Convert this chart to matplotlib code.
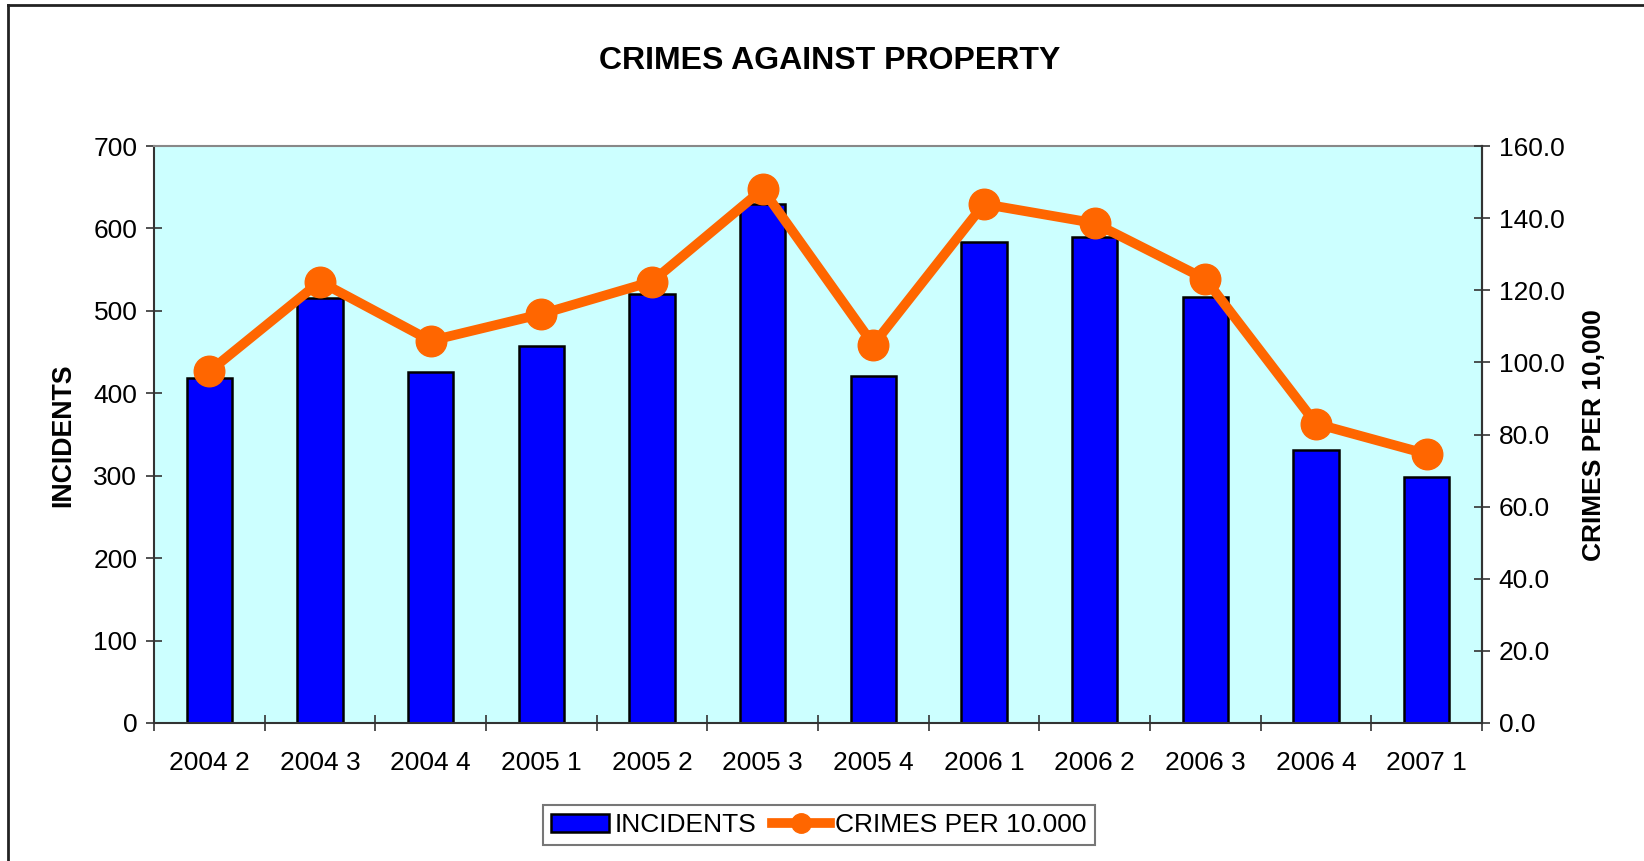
import matplotlib
matplotlib.use("Agg")
import matplotlib.pyplot as plt
from matplotlib.lines import Line2D
from matplotlib.patches import Patch
import numpy as np

plt.rcParams['font.family'] = ['Liberation Sans', 'DejaVu Sans']

categories = ["2004 2", "2004 3", "2004 4", "2005 1", "2005 2", "2005 3",
              "2005 4", "2006 1", "2006 2", "2006 3", "2006 4", "2007 1"]
incidents = [418, 516, 426, 457, 521, 630, 421, 583, 589, 517, 331, 298]
crimes_per_10000 = [97.5, 122.4, 106.0, 113.4, 122.4, 148.0, 104.9, 143.9,
                    138.6, 123.1, 83.0, 74.6]
left_ticks = [0, 100, 200, 300, 400, 500, 600, 700]
right_ticks = [0, 20, 40, 60, 80, 100, 120, 140, 160]

W, H = 1644, 861
fig = plt.figure(figsize=(W / 100, H / 100), dpi=100)
ax = fig.add_axes([154 / W, 1 - 723 / H, (1482 - 154) / W, (723 - 146) / H])
ax.set_facecolor('#CCFFFF')

x = np.arange(len(categories))
ax.bar(x, incidents, width=0.41, color='#0000FF', edgecolor='black',
       linewidth=1.8, zorder=2)
ax.set_xlim(-0.5, len(categories) - 0.5)
ax.set_ylim(0, 700)
ax.set_yticks(left_ticks)
ax.set_yticklabels([str(t) for t in left_ticks])
ax.set_xticks(x)
ax.set_xticklabels(categories)
ax.set_xticks(np.arange(-0.5, len(categories), 1.0), minor=True)
ax.tick_params(axis='x', which='major', length=0, pad=20, labelsize=19)
ax.tick_params(axis='x', which='minor', direction='inout', length=12,
               width=1.2, color='#333333')
ax.tick_params(axis='y', direction='inout', length=12, width=1.2,
               color='#333333', labelsize=19, pad=6)

for s in ['left', 'bottom']:
    ax.spines[s].set_color('#333333')
    ax.spines[s].set_linewidth(1.5)
ax.spines['top'].set_color('#888888')
ax.spines['top'].set_linewidth(1.5)
ax.spines['right'].set_color('#333333')
ax.spines['right'].set_linewidth(1.5)

ax2 = ax.twinx()
ax2.plot(x, crimes_per_10000, color='#FF6600', linewidth=7,
         marker='o', markersize=22, zorder=3)
ax2.set_ylim(0, 160)
ax2.set_yticks(right_ticks)
ax2.set_yticklabels([f"{t:.1f}" for t in right_ticks])
ax2.tick_params(axis='y', direction='inout', length=12, width=1.2,
                color='#333333', labelsize=19, pad=6)
for s in ['left', 'bottom', 'top']:
    ax2.spines[s].set_visible(False)
ax2.spines['right'].set_color('#333333')
ax2.spines['right'].set_linewidth(1.5)

fig.text(830 / W, 1 - 61 / H, "CRIMES AGAINST PROPERTY", ha='center',
         va='center', fontsize=23, fontweight='bold')
fig.text(63 / W, 1 - 435 / H, "INCIDENTS", rotation=90, ha='center',
         va='center', fontsize=19.3, fontweight='bold')
fig.text(1594 / W, 1 - 435 / H, "CRIMES PER 10,000", rotation=90,
         ha='center', va='center', fontsize=19, fontweight='bold')

handles = [Patch(facecolor='#0000FF', edgecolor='black', linewidth=1.8),
           Line2D([0], [0], color='#FF6600', linewidth=7, marker='o',
                  markersize=14)]
leg = fig.legend(handles, ["INCIDENTS", "CRIMES PER 10.000"], loc='center',
                 bbox_to_anchor=(819 / W, 1 - 825 / H), ncol=2,
                 fontsize=19, frameon=True, fancybox=False,
                 handlelength=2.2, handletextpad=0.2, columnspacing=0.6,
                 borderpad=0.3)
leg.get_frame().set_edgecolor('#555555')
leg.get_frame().set_linewidth(1.5)

# outer chart frame
fig.add_artist(Line2D([8 / W, 8 / W], [0, 1 - 5 / H], color='#222222',
                      linewidth=2, transform=fig.transFigure))
fig.add_artist(Line2D([8 / W, 1], [1 - 5 / H, 1 - 5 / H], color='#222222',
                      linewidth=2, transform=fig.transFigure))

fig.savefig("out.png", dpi=100)
